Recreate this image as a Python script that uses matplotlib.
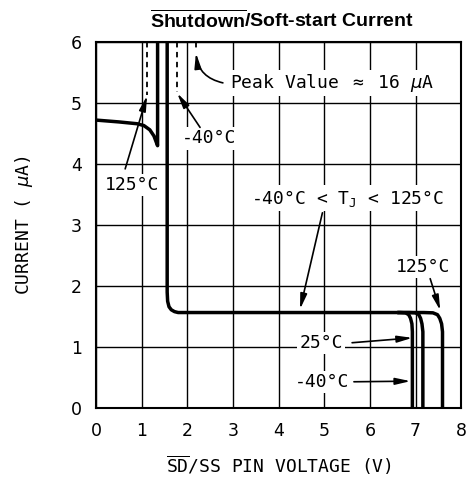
import matplotlib
matplotlib.use("Agg")
import matplotlib.pyplot as plt

plt.rcParams['font.family'] = ['DejaVu Sans Mono', 'DejaVu Sans']
plt.rcParams['mathtext.fontset'] = 'custom'
plt.rcParams['mathtext.rm'] = 'DejaVu Sans Mono'
plt.rcParams['mathtext.it'] = 'DejaVu Sans:italic'
plt.rcParams['mathtext.bf'] = 'Liberation Sans:bold'

# ---- data ----
# shared curve for -40C < Tj < 125C (vertical drop then flat plateau)
main_v = [1.56, 1.56, 1.57, 1.60, 1.65, 1.72, 1.80, 6.60]
main_i = [6.00, 1.90, 1.75, 1.66, 1.61, 1.58, 1.565, 1.565]

# 125C curve at low voltage
hot_v = [0.00, 0.50, 0.90, 1.05, 1.18, 1.27, 1.32, 1.35, 1.35]
hot_i = [4.72, 4.69, 4.66, 4.63, 4.56, 4.46, 4.36, 4.30, 6.00]

# turn-off tails at high voltage (each leaves the plateau)
tail_i = [1.565, 1.565, 1.56, 1.53, 1.47, 1.38, 1.25, 0.00]
tail_m40_v = [6.60, 6.66, 6.78, 6.85, 6.89, 6.92, 6.93, 6.93]
tail_25_v = [6.60, 6.86, 7.00, 7.07, 7.11, 7.14, 7.16, 7.16]
tail_125_v = [6.60, 7.18, 7.38, 7.48, 7.53, 7.57, 7.59, 7.59]

# dashed peak markers (go off scale)
peak_v = [1.12, 1.78, 2.19]
peak_bottom = [5.13, 5.18, 5.85]

xticks = [0, 1, 2, 3, 4, 5, 6, 7, 8]
yticks = [0, 1, 2, 3, 4, 5, 6]

# ---- figure ----
fig = plt.figure(figsize=(4.75, 4.8), dpi=100)
ax = fig.add_axes([0.202, 0.15, 0.769, 0.7625])

LW = 2.5
ax.plot(main_v, main_i, color='black', lw=LW, solid_capstyle='butt', zorder=2)
ax.plot(hot_v, hot_i, color='black', lw=LW, solid_joinstyle='round', zorder=2)
for tv in [tail_m40_v, tail_25_v, tail_125_v]:
    ax.plot(tv, tail_i, color='black', lw=LW, solid_capstyle='butt', zorder=2)

for v, b in zip(peak_v, peak_bottom):
    ax.plot([v, v], [6.0, b], color='black', lw=1.3, ls=(0, (3, 2.5)), zorder=2)

ax.set_xlim(0, 8)
ax.set_ylim(0, 6)
ax.set_xticks(xticks)
ax.set_yticks(yticks)
ax.tick_params(length=0, labelsize=12.5)
ax.tick_params(axis='x', pad=10)
ax.tick_params(axis='y', pad=10)
for lab in ax.get_xticklabels() + ax.get_yticklabels():
    lab.set_family('DejaVu Sans')
ax.grid(True, color='black', lw=1.0)
ax.set_axisbelow(True)
for s in ax.spines.values():
    s.set_linewidth(1.5)

ax.set_xlabel(r'$\overline{\mathrm{SD}}$/SS PIN VOLTAGE (V)', fontsize=13, labelpad=10)
ax.set_ylabel(r'CURRENT ( $\mu$A)', fontsize=13, labelpad=26)
fig.text(0.594, 0.957, r'$\overline{\mathbf{Shutdown}}$/Soft-start Current',
         ha='center', va='center', fontsize=14, fontweight='bold',
         family='Liberation Sans')

box = dict(facecolor='white', edgecolor='none', pad=1.5)
tkw = dict(fontsize=13, ha='center', va='center', bbox=box, zorder=3)
akw = dict(arrowstyle='-|>,head_length=0.9,head_width=0.2', color='black',
           lw=1.2, shrinkA=0, shrinkB=0)

ax.text(2.94, 5.33, r'Peak Value $\approx$ 16 $\mu$A', ha='left', va='center',
        fontsize=13, bbox=box, zorder=3)
ax.annotate('', xy=(2.19, 5.82), xytext=(2.78, 5.33),
            arrowprops=dict(connectionstyle='arc3,rad=-0.35', **akw))

ax.text(2.48, 4.42, '-40°C', **tkw)
ax.annotate('', xy=(1.78, 5.16), xytext=(2.28, 4.60), arrowprops=akw)

ax.text(0.79, 3.66, '125°C', **tkw)
ax.annotate('', xy=(1.12, 5.12), xytext=(0.64, 3.92), arrowprops=akw)

ax.text(5.52, 3.44, r'-40°C < T$_\mathrm{J}$ < 125°C', **tkw)
ax.annotate('', xy=(4.47, 1.62), xytext=(4.96, 3.20), arrowprops=akw)

ax.text(7.16, 2.31, '125°C', **tkw)
ax.annotate('', xy=(7.54, 1.60), xytext=(7.32, 2.12), arrowprops=akw)

ax.text(4.93, 1.07, '25°C', **tkw)
ax.annotate('', xy=(6.93, 1.15), xytext=(5.61, 1.07), arrowprops=akw)

ax.text(4.96, 0.43, '-40°C', **tkw)
ax.annotate('', xy=(6.89, 0.44), xytext=(5.65, 0.43), arrowprops=akw)

fig.savefig('out.png', dpi=100)
